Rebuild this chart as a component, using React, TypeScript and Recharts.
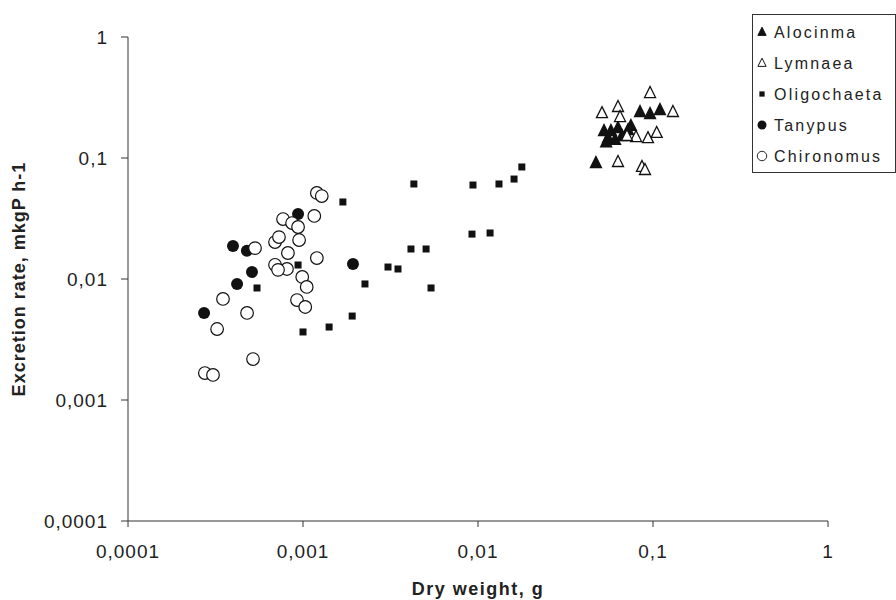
import {
  ScatterChart,
  Scatter,
  XAxis,
  YAxis,
  Legend,
} from "recharts";

type Pt = { x: number; y: number };

// dry weight (g) / excretion rate (mkgP h-1)
const alocinma: Pt[] = [
  { x: 0.0472, y: 0.0909 },
  { x: 0.0525, y: 0.167 },
  { x: 0.0553, y: 0.146 },
  { x: 0.0575, y: 0.167 },
  { x: 0.054, y: 0.135 },
  { x: 0.0607, y: 0.141 },
  { x: 0.0631, y: 0.177 },
  { x: 0.0665, y: 0.152 },
  { x: 0.072, y: 0.17 },
  { x: 0.0748, y: 0.184 },
  { x: 0.0843, y: 0.24 },
  { x: 0.0962, y: 0.231 },
  { x: 0.1096, y: 0.249 },
];

const lymnaea: Pt[] = [
  { x: 0.0511, y: 0.235 },
  { x: 0.0631, y: 0.264 },
  { x: 0.0648, y: 0.218 },
  { x: 0.0962, y: 0.344 },
  { x: 0.13, y: 0.24 },
  { x: 0.105, y: 0.161 },
  { x: 0.0936, y: 0.146 },
  { x: 0.08, y: 0.149 },
  { x: 0.071, y: 0.152 },
  { x: 0.0631, y: 0.0927 },
  { x: 0.0865, y: 0.0843 },
  { x: 0.09, y: 0.0796 },
];

const oligochaeta: Pt[] = [
  { x: 0.000546, y: 0.00843 },
  { x: 0.001, y: 0.00365 },
  { x: 0.00141, y: 0.00401 },
  { x: 0.00191, y: 0.00494 },
  { x: 0.00226, y: 0.0091 },
  { x: 0.00306, y: 0.01256 },
  { x: 0.00349, y: 0.0121 },
  { x: 0.00414, y: 0.0177 },
  { x: 0.00505, y: 0.0177 },
  { x: 0.00539, y: 0.00843 },
  { x: 0.00169, y: 0.0433 },
  { x: 0.000937, y: 0.01305 },
  { x: 0.0043, y: 0.061 },
  { x: 0.00924, y: 0.0235 },
  { x: 0.01172, y: 0.024 },
  { x: 0.00936, y: 0.0598 },
  { x: 0.01318, y: 0.061 },
  { x: 0.01607, y: 0.067 },
  { x: 0.0178, y: 0.0843 },
];

const tanypus: Pt[] = [
  { x: 0.000272, y: 0.00524 },
  { x: 0.000398, y: 0.0187 },
  { x: 0.00042, y: 0.0091 },
  { x: 0.000478, y: 0.0171 },
  { x: 0.000511, y: 0.0114 },
  { x: 0.000937, y: 0.0344 },
  { x: 0.00193, y: 0.0133 },
];

const chironomus: Pt[] = [
  { x: 0.0012, y: 0.0514 },
  { x: 0.00128, y: 0.0485 },
  { x: 0.00116, y: 0.0332 },
  { x: 0.000769, y: 0.0313 },
  { x: 0.000866, y: 0.029 },
  { x: 0.000937, y: 0.0269 },
  { x: 0.000692, y: 0.0202 },
  { x: 0.000729, y: 0.0222 },
  { x: 0.00095, y: 0.021 },
  { x: 0.00082, y: 0.0164 },
  { x: 0.0012, y: 0.0149 },
  { x: 0.000692, y: 0.0131 },
  { x: 0.00081, y: 0.0121 },
  { x: 0.00072, y: 0.0119 },
  { x: 0.00099, y: 0.0104 },
  { x: 0.00105, y: 0.0086 },
  { x: 0.000924, y: 0.0067 },
  { x: 0.00103, y: 0.00587 },
  { x: 0.000532, y: 0.018 },
  { x: 0.000349, y: 0.00684 },
  { x: 0.000479, y: 0.00524 },
  { x: 0.000323, y: 0.00386 },
  { x: 0.000518, y: 0.00218 },
  { x: 0.000275, y: 0.00167 },
  { x: 0.000306, y: 0.00161 },
];

const seriesNames = ["Alocinma", "Lymnaea", "Oligochaeta", "Tanypus", "Chironomus"];
const logTicks = [0.0001, 0.001, 0.01, 0.1, 1];

const INK = "#111";
const FONT = "'Liberation Sans', Arial, sans-serif";

const fmt = (v: number) => String(v).replace(".", ",");

// marker glyphs, one per species
function Marker({ kind, cx, cy }: { kind: number; cx: number; cy: number }) {
  switch (kind) {
    case 0:
    case 1:
      return (
        <path
          d={`M${cx},${cy - 6.5}L${cx + 5.5},${cy + 4.5}L${cx - 5.5},${cy + 4.5}Z`}
          fill={kind === 0 ? INK : "#fff"}
          stroke={INK}
          strokeWidth={1.3}
        />
      );
    case 2:
      return <rect x={cx - 3.5} y={cy - 3.5} width={7} height={7} fill={INK} />;
    case 3:
      return <circle cx={cx} cy={cy} r={6} fill={INK} />;
    default:
      return <circle cx={cx} cy={cy} r={6.3} fill="#fff" stroke={INK} strokeWidth={1.2} />;
  }
}

const shapeFor = (kind: number) => (props: any) =>
  <Marker kind={kind} cx={props.cx} cy={props.cy} />;

function LegendBox() {
  return (
    <svg width={144} height={160} style={{ display: "block" }}>
      <rect x={0.5} y={0.5} width={143} height={158} fill="#fff" stroke="#333" />
      {seriesNames.map((name, i) => {
        const cy = 18 + i * 31;
        return (
          <g key={name}>
            <g transform={`translate(10 ${cy}) scale(0.75) translate(-10 ${-cy})`}>
              <Marker kind={i} cx={10} cy={cy} />
            </g>
            <text
              x={22}
              y={cy}
              dy="0.36em"
              fontFamily={FONT}
              fontSize={16}
              letterSpacing={2.2}
              fill="#222"
            >
              {name}
            </text>
          </g>
        );
      })}
    </svg>
  );
}

const series = [alocinma, lymnaea, oligochaeta, tanypus, chironomus];

export default function App() {
  return (
    <div style={{ position: "absolute", left: 0, top: 0, background: "#fff" }}>
      <ScatterChart
        width={896}
        height={600}
        margin={{ top: 37, right: 68, bottom: 0, left: 0 }}
      >
        <XAxis
          type="number"
          dataKey="x"
          scale="log"
          domain={[0.0001, 1]}
          ticks={logTicks}
          allowDataOverflow
          tickFormatter={fmt}
          height={79}
          tickSize={6}
          tickMargin={18}
          stroke="#333"
          tick={{ fill: "#222", fontFamily: FONT, fontSize: 19, letterSpacing: 1 }}
          label={{
            value: "Dry weight, g",
            position: "insideBottom",
            offset: 5,
            style: {
              fontFamily: FONT,
              fontSize: 18,
              fontWeight: "bold",
              letterSpacing: 1.5,
              fill: "#222",
            },
          }}
        />
        <YAxis
          type="number"
          dataKey="y"
          scale="log"
          domain={[0.0001, 1]}
          ticks={logTicks}
          allowDataOverflow
          tickFormatter={fmt}
          width={128}
          tickSize={7}
          tickMargin={13}
          stroke="#333"
          tick={{ fill: "#222", fontFamily: FONT, fontSize: 19, letterSpacing: 1 }}
          label={{
            value: "Excretion rate, mkgP h-1",
            angle: -90,
            position: "insideLeft",
            offset: 19,
            style: {
              textAnchor: "middle",
              fontFamily: FONT,
              fontSize: 18,
              fontWeight: "bold",
              letterSpacing: 1,
              fill: "#222",
            },
          }}
        />
        <Legend
          layout="horizontal"
          verticalAlign="middle"
          align="center"
          content={() => <LegendBox />}
          wrapperStyle={{ left: 752, top: 14, width: 144, height: 160 }}
        />
        {series.map((data, i) => (
          <Scatter
            key={seriesNames[i]}
            name={seriesNames[i]}
            data={data}
            shape={shapeFor(i)}
            isAnimationActive={false}
          />
        ))}
      </ScatterChart>
    </div>
  );
}
